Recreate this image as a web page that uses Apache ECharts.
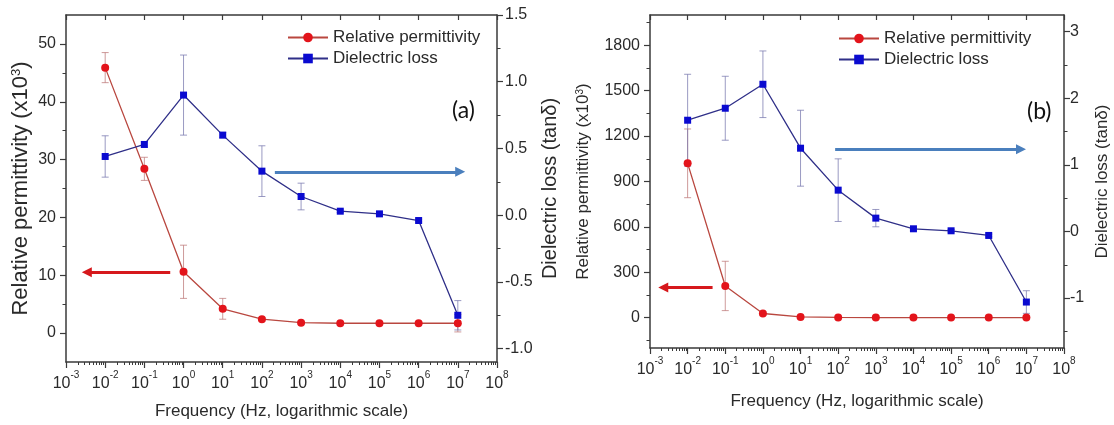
<!DOCTYPE html>
<html><head><meta charset="utf-8">
<script src="https://cdn.jsdelivr.net/npm/echarts@6/dist/echarts.min.js"></script>
<style>html,body{margin:0;padding:0;background:#fff}#c{width:1114px;height:425px}</style>
</head><body><div id="c"></div>
<script>
// ---- data ----
const frequencies = [1e-2, 1e-1, 1e0, 1e1, 1e2, 1e3, 1e4, 1e5, 1e6, 1e7];
// panel (a)
const permA    = [45.9, 28.4, 10.6, 4.2, 2.4, 1.8, 1.7, 1.7, 1.7, 1.7];
const permAErr = [2.6, 2.0, 4.6, 1.8, 0.3, 0.1, 0.1, 0.1, 0.1, 1.5];
const lossA    = [0.44, 0.53, 0.90, 0.60, 0.33, 0.14, 0.03, 0.01, -0.04, -0.75];
const lossAErr = [0.155, 0.02, 0.30, 0.02, 0.19, 0.10, 0.01, 0.01, 0.01, 0.11];
// panel (b)
const permB    = [1020, 210, 28, 5, 2, 1, 1, 1, 1, 1];
const permBErr = [227, 163, 10, 2, 1, 1, 1, 1, 1, 2];
const lossB    = [1.67, 1.85, 2.21, 1.25, 0.62, 0.20, 0.04, 0.01, -0.06, -1.06];
const lossBErr = [0.69, 0.48, 0.50, 0.57, 0.47, 0.13, 0.02, 0.02, 0.02, 0.17];
// axis ticks
const xRange = [1e-3, 1e8];
const xMajor = [1e-3,1e-2,1e-1,1e0,1e1,1e2,1e3,1e4,1e5,1e6,1e7,1e8];
const xMinor = [];
for (let k = -3; k < 8; k++) for (let m = 2; m <= 9; m++) xMinor.push(m * Math.pow(10, k));
const yA_left  = {min: -5, max: 55, major: [0,10,20,30,40,50], minor: [5,15,25,35,45]};
const yA_right = {min: -1.1, max: 1.5, major: [-1,-0.5,0,0.5,1,1.5], minor: [-0.75,-0.25,0.25,0.75,1.25]};
const yB_left  = {min: -200, max: 2000, major: [0,300,600,900,1200,1500,1800], minor: [-150,150,450,750,1050,1350,1650,1950]};
const yB_right = {min: -1.75, max: 3.25, major: [-1,0,1,2,3], minor: [-1.5,-0.5,0.5,1.5,2.5]};
// arrows: [x tail, x tip, y]
const arrowA_red  = [0.457, 0.0034, 10.5];
const arrowA_blue = [214, 1.15e7, 0.325];
const arrowB_red  = [0.046, 0.00225, 200];
const arrowB_blue = [83, 7.2e6, 1.234];
const legendNames = ['Relative permittivity', 'Dielectric loss'];

// ---- styling ----
const FONT = '"Liberation Sans", Arial, sans-serif';
const AX = '#3a3a3a';
const TXT = '#2a2a2a';
const RED_LINE = '#b9473f', RED_MK = '#e3141b', RED_ERR = 'rgba(190,120,120,0.75)';
const BLUE_LINE = '#2f2f88', BLUE_MK = '#0a0ad0', BLUE_ERR = 'rgba(120,120,175,0.75)';
const RED_ARROW = '#d6181c', BLUE_ARROW = '#4a7fbd';

const supRich = {
  b: {fontSize: 16, fontFamily: FONT, color: TXT, lineHeight: 22, verticalAlign: 'bottom'},
  s: {fontSize: 10, fontFamily: FONT, color: TXT, lineHeight: 11, verticalAlign: 'top'}
};

function xAxes(grid, nameGap) {
  return [
    {gridIndex: grid, type: 'log', logBase: 10, min: xRange[0], max: xRange[1], position: 'bottom',
     axisLine: {show: true, onZero: false, lineStyle: {color: AX, width: 1.5}},
     axisTick: {show: true, inside: false, length: 6, customValues: xMajor, lineStyle: {color: AX, width: 1.2}},
     axisLabel: {show: true, margin: 8, customValues: xMajor,
       formatter: v => '{b|10}{s|' + Math.round(Math.log10(v)) + '}', rich: supRich},
     splitLine: {show: false}, minorTick: {show: false},
     name: 'Frequency (Hz, logarithmic scale)', nameLocation: 'middle', nameGap: nameGap,
     nameTextStyle: {fontSize: 17, fontFamily: FONT, color: TXT}},
    {gridIndex: grid, type: 'log', logBase: 10, min: xRange[0], max: xRange[1], position: 'bottom',
     axisLine: {show: false, onZero: false}, axisLabel: {show: false}, splitLine: {show: false},
     axisTick: {show: true, inside: false, length: 3, customValues: xMinor, lineStyle: {color: AX, width: 1}}},
    {gridIndex: grid, type: 'log', logBase: 10, min: xRange[0], max: xRange[1], position: 'top',
     axisLine: {show: true, onZero: false, lineStyle: {color: AX, width: 1.5}}, axisLabel: {show: false}, splitLine: {show: false},
     axisTick: {show: true, inside: true, length: 5, customValues: xMajor, lineStyle: {color: AX, width: 1.2}}}
  ];
}

function yAxes(grid, cfg, pos, fmt, name, nameGap, labelMargin, nameSize) {
  return [
    {gridIndex: grid, type: 'value', position: pos, min: cfg.min, max: cfg.max,
     axisLine: {show: true, onZero: false, lineStyle: {color: AX, width: 1.5}},
     axisTick: {show: true, inside: false, length: 6, customValues: cfg.major, lineStyle: {color: AX, width: 1.2}},
     axisLabel: {show: true, margin: labelMargin, customValues: cfg.major, formatter: fmt,
       fontSize: 16, fontFamily: FONT, color: TXT},
     splitLine: {show: false},
     name: name, nameLocation: 'middle', nameGap: nameGap, nameRotate: 90,
     nameTextStyle: {rich: {
       n: {fontSize: nameSize, fontFamily: FONT, color: TXT},
       s: {fontSize: Math.round(nameSize * 0.6), fontFamily: FONT, color: TXT, verticalAlign: 'top', lineHeight: Math.round(nameSize * 0.65)}}}},
    {gridIndex: grid, type: 'value', position: pos, min: cfg.min, max: cfg.max,
     axisLine: {show: false, onZero: false}, axisLabel: {show: false}, splitLine: {show: false},
     axisTick: {show: true, inside: false, length: 3.5, customValues: cfg.minor, lineStyle: {color: AX, width: 1}}}
  ];
}

function pairs(ys) { return frequencies.map((f, i) => [f, ys[i]]); }

function lineSeries(name, xIdx, yIdx, ys, lineColor, mkColor, symbol, size, arrow, arrowColor) {
  return {
    type: 'line', name: name, xAxisIndex: xIdx, yAxisIndex: yIdx, data: pairs(ys),
    symbol: symbol, symbolSize: size, z: 3,
    lineStyle: {color: lineColor, width: 1.3}, itemStyle: {color: mkColor},
    emphasis: {disabled: true},
    markLine: {
      silent: true, animation: false, symbol: ['none', 'triangle'], symbolSize: 10,
      lineStyle: {color: arrowColor, width: 3, type: 'solid'}, label: {show: false},
      emphasis: {disabled: true},
      data: [[{coord: [arrow[0], arrow[2]]}, {coord: [arrow[1], arrow[2]]}]]
    }
  };
}

function errSeries(xIdx, yIdx, ys, errs, color) {
  return {
    type: 'custom', xAxisIndex: xIdx, yAxisIndex: yIdx, silent: true, z: 2,
    data: frequencies.map((f, i) => [f, ys[i], errs[i]]),
    encode: {x: 0, y: 1},
    renderItem: (params, api) => {
      const x = api.value(0), y = api.value(1), e = api.value(2);
      const t = api.coord([x, y + e]), b = api.coord([x, y - e]);
      const w = 3.5, st = {stroke: color, lineWidth: 1};
      return {type: 'group', children: [
        {type: 'line', shape: {x1: t[0], y1: t[1], x2: b[0], y2: b[1]}, style: st},
        {type: 'line', shape: {x1: t[0] - w, y1: t[1], x2: t[0] + w, y2: t[1]}, style: st},
        {type: 'line', shape: {x1: b[0] - w, y1: b[1], x2: b[0] + w, y2: b[1]}, style: st}
      ]};
    }
  };
}

const permName = '{n|Relative permittivity (x10}{s|3}{n|)}';
const lossName = '{n|Dielectric loss (tanδ)}';
const legendText = {fontSize: 17, fontFamily: FONT, color: TXT, lineHeight: 17};

const option = {
  animation: false,
  backgroundColor: '#ffffff',
  grid: [
    {left: 66, top: 15, width: 431, height: 348},
    {left: 650, top: 15, width: 414, height: 333}
  ],
  xAxis: [...xAxes(0, 41), ...xAxes(1, 45)],
  yAxis: [
    ...yAxes(0, yA_left, 'left', v => String(v), permName, 34, 10, 22),
    ...yAxes(0, yA_right, 'right', v => v.toFixed(1), lossName, 43, 8, 20),
    ...yAxes(1, yB_left, 'left', v => String(v), permName, 58, 10, 17),
    ...yAxes(1, yB_right, 'right', v => String(v), lossName, 30, 6, 17)
  ],
  legend: [
    {data: legendNames, orient: 'vertical', left: 282, top: 24, itemWidth: 40, itemHeight: 12, itemGap: 4,
     textStyle: legendText, selectedMode: false},
    {data: legendNames, orient: 'vertical', left: 833, top: 25, itemWidth: 40, itemHeight: 12, itemGap: 4,
     textStyle: legendText, selectedMode: false}
  ],
  graphic: [
    {type: 'text', left: 452, top: 99, style: {text: '(a)', fontSize: 23, fontFamily: 'Lato, "Open Sans", sans-serif', fill: '#111'}},
    {type: 'text', left: 1027, top: 100, style: {text: '(b)', fontSize: 23, fontFamily: 'Lato, "Open Sans", sans-serif', fill: '#111'}}
  ],
  series: [
    errSeries(0, 0, permA, permAErr, RED_ERR),
    errSeries(0, 2, lossA, lossAErr, BLUE_ERR),
    lineSeries(legendNames[0], 0, 0, permA, RED_LINE, RED_MK, 'circle', 8, arrowA_red, RED_ARROW),
    lineSeries(legendNames[1], 0, 2, lossA, BLUE_LINE, BLUE_MK, 'rect', 7, arrowA_blue, BLUE_ARROW),
    errSeries(3, 4, permB, permBErr, RED_ERR),
    errSeries(3, 6, lossB, lossBErr, BLUE_ERR),
    lineSeries(legendNames[0], 3, 4, permB, RED_LINE, RED_MK, 'circle', 8, arrowB_red, RED_ARROW),
    lineSeries(legendNames[1], 3, 6, lossB, BLUE_LINE, BLUE_MK, 'rect', 7, arrowB_blue, BLUE_ARROW)
  ]
};

const chart = echarts.init(document.getElementById('c'), null, {renderer: 'canvas'});
chart.setOption(option);
</script>
</body></html>
